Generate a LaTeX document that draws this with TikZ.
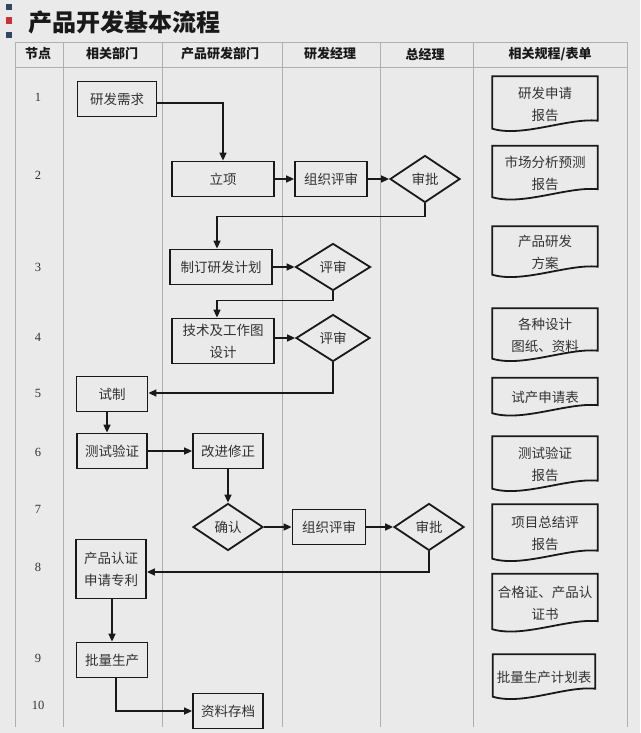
\documentclass[tikz,border=0pt]{standalone}
\usepackage{fontspec}
\setmainfont{Liberation Serif}
\newfontfamily\cjk{Noto Sans CJK SC}
\usepackage{tikz}
\usetikzlibrary{shapes.geometric, arrows.meta, positioning, calc}
\definecolor{mybg}{RGB}{234,234,234}
\definecolor{mygrid}{RGB}{175,175,175}
\definecolor{mydark}{RGB}{25,25,25}
\definecolor{mytext}{RGB}{50,50,50}
\definecolor{myslate}{RGB}{50,72,92}
\definecolor{myred}{RGB}{200,52,52}
\tikzset{
  block/.style={rectangle, draw=mydark, line width=1.8pt, align=center,
    inner sep=0pt, minimum width=70pt, minimum height=35pt,
    text=mytext, font=\cjk\fontsize{13.5}{22}\selectfont},
  decision/.style={diamond, draw=mydark, line width=1.8pt, aspect=1.5,
    inner sep=0pt, minimum width=70pt, minimum height=47pt,
    text=mytext, font=\cjk\fontsize{13.5}{22}\selectfont},
  doc/.style={rectangle, align=center, inner sep=0pt,
    minimum width=105pt, text=mytext, font=\cjk\fontsize{13.5}{22}\selectfont},
  docline/.style={draw=mydark, line width=1.8pt},
  hdr/.style={text=mydark, font=\cjk\bfseries\fontsize{13}{15}\selectfont},
  rownum/.style={text=mytext, font=\fontsize{12.5}{14}\selectfont},
  gridline/.style={draw=mygrid, line width=0.8pt},
  arrow/.style={-{Triangle[length=8pt,width=7pt]}, line width=1.6pt, color=mydark},
  line/.style={line width=1.6pt, color=mydark}
}

\begin{document}
\begin{tikzpicture}[x=1pt, y=-1pt]
  \useasboundingbox (0,0) rectangle (640,733);
  \fill[mybg] (0,0) rectangle (640,733);

  % Title
  \fill[myslate] (6,4) rectangle (12,10);
  \fill[myred] (6,17) rectangle (12,24);
  \fill[myslate] (6,32) rectangle (12,38);
  \node[anchor=west, text=mydark, font=\cjk\bfseries\fontsize{24}{26}\selectfont] (title) at (25,22) {产品开发基本流程};

  % Table
  \draw[gridline] (15,42) -- (627,42);
  \draw[gridline] (15,67) -- (627,67);
  \foreach \x in {15,63,162,282,380,473,627}
    \draw[gridline] (\x,42) -- (\x,727);

  % Headers
  \node[hdr] (hnode) at (38,54) {节点};
  \node[hdr] (hdept) at (112,54) {相关部门};
  \node[hdr] (hrd) at (220,54) {产品研发部门};
  \node[hdr] (hmgr) at (330,54) {研发经理};
  \node[hdr] (hgm) at (425,54) {总经理};
  \node[hdr] (hdoc) at (550,54) {相关规程/表单};

  % Row numbers
  \foreach \n/\y in {1/97,2/175,3/267,4/337,5/393,6/452,7/509,8/567,9/658,10/705}
    \node[rownum] (row\n) at (38,\y) {\n};

  % Flow boxes
  \node[block, minimum width=79pt] (req) at (117,99) {研发需求};
  \node[block, minimum width=102pt] (setup) at (223,179) {立项};
  \node[block, minimum width=72pt] (org1) at (331,179) {组织评审};
  \node[decision] (appr1) at (425,179) {审批};
  \node[block, minimum width=102pt] (plan) at (221,267) {制订研发计划};
  \node[decision, minimum width=75pt] (rev1) at (333,267) {评审};
  \node[block, minimum width=102pt, minimum height=45pt] (tech) at (223,341) {技术及工作图\\设计};
  \node[decision, minimum width=74pt] (rev2) at (333,338) {评审};
  \node[block, minimum width=71pt] (trial) at (112,394) {试制};
  \node[block] (test) at (112,451) {测试验证};
  \node[block] (improve) at (228,451) {改进修正};
  \node[decision] (confirm) at (228,527) {确认};
  \node[block, minimum width=73pt] (org2) at (329,527) {组织评审};
  \node[decision] (appr2) at (429,527) {审批};
  \node[block, minimum height=59pt] (cert) at (111,569) {产品认证\\申请专利};
  \node[block, minimum width=71pt] (mass) at (112,660) {批量生产};
  \node[block] (archive) at (228,711) {资料存档};

  % Connectors
  \draw[arrow] ([yshift=-4pt]req.east) -| (setup.north);
  \draw[arrow] (setup.east) -- (org1.west);
  \draw[arrow] (org1.east) -- (appr1.west);
  \draw[arrow] (appr1.south) -- ++(0,13) -| ([xshift=-4pt]plan.north);
  \draw[arrow] (plan.east) -- (rev1.west);
  \draw[arrow] (rev1.south) -- ++(0,9) -| ([xshift=-6pt]tech.north);
  \draw[arrow] (tech.east |- rev2) -- (rev2.west);
  \draw[arrow] (rev2.south) |- ([yshift=1pt]trial.east);
  \draw[arrow] ([xshift=-5pt]trial.south) -- ([xshift=-5pt]trial.south |- test.north);
  \draw[arrow] (test.east) -- (improve.west);
  \draw[arrow] (improve) -- (confirm);
  \draw[arrow] (confirm.east) -- (org2.west);
  \draw[arrow] (org2.east) -- (appr2.west);
  \draw[arrow] (appr2.south) |- ([yshift=-3pt]cert.east);
  \draw[arrow] ([xshift=1pt]cert.south) -- ([xshift=1pt]cert.south |- mass.north);
  \draw[arrow] ([xshift=4pt]mass.south) |- (archive.west);

  % Documents
  \node[doc, minimum height=55pt] (d1) at (545,104) {研发申请\\报告};
  \node[doc, minimum height=54pt] (d2) at (545,173) {市场分析预测\\报告};
  \node[doc, minimum height=51pt] (d3) at (545,252) {产品研发\\方案};
  \node[doc, minimum height=53pt] (d4) at (545,335) {各种设计\\图纸、资料};
  \node[doc, minimum height=38pt] (d5) at (545,397) {试产申请表};
  \node[doc, minimum height=55pt] (d6) at (545,464) {测试验证\\报告};
  \node[doc, minimum height=57pt] (d7) at (545,533) {项目总结评\\报告};
  \node[doc, minimum height=58pt] (d8) at (545,603) {合格证、产品认\\证书};
  \node[doc, minimum height=45pt, minimum width=102pt] (d9) at (544,677) {批量生产计划表};
  \foreach \d in {d1,d2,d3,d4,d5,d6,d7,d8,d9}
    \draw[docline] (\d.north west) -- (\d.north east) -- ([yshift=11pt]\d.south east)
      .. controls ([xshift=-30pt,yshift=14pt]\d.south east) and ([xshift=30pt,yshift=-6pt]\d.south west)
      .. ([yshift=3pt]\d.south west) -- cycle;
\end{tikzpicture}
\end{document}
